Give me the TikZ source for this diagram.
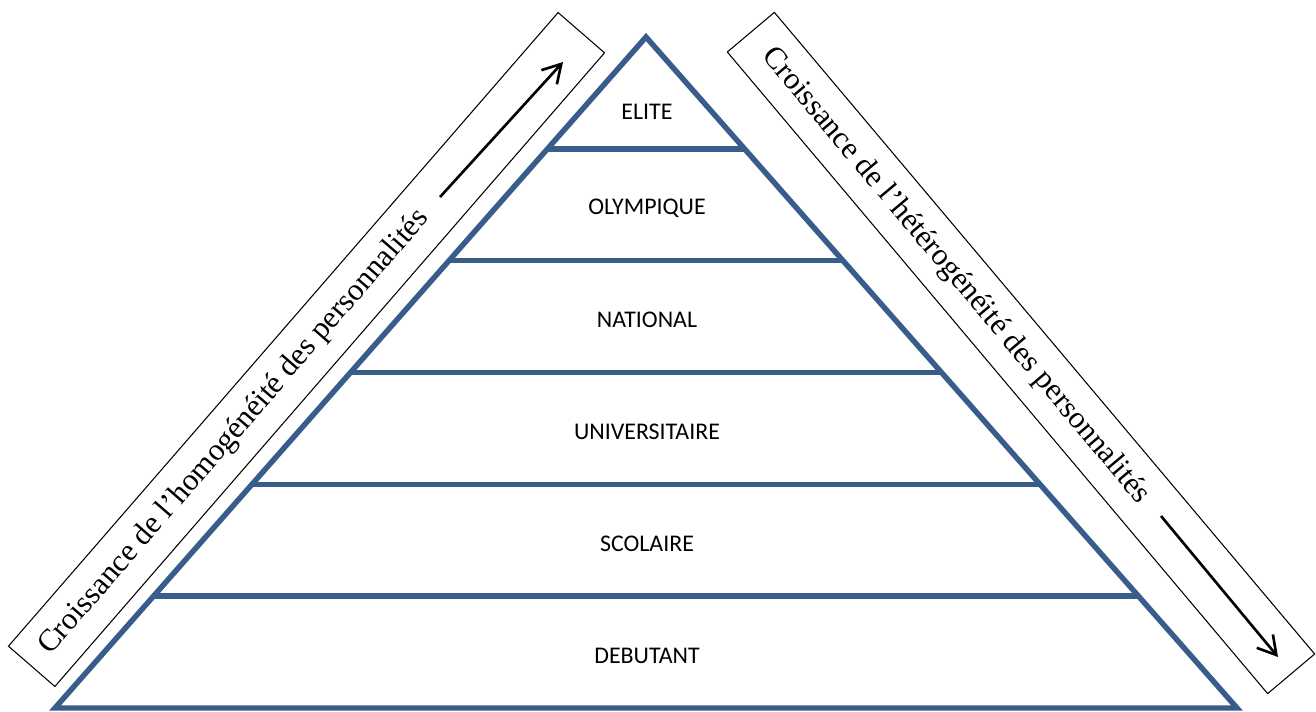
\documentclass[tikz,border=0pt]{standalone}
\usepackage{fontspec}
\setmainfont{Liberation Serif}
\newfontfamily\calibri{Carlito}
\usetikzlibrary{calc,arrows.meta}
\definecolor{pyrblue}{RGB}{56,93,138}
\tikzset{
  tierline/.style={draw=pyrblue,line width=3.1pt},
  tierlabel/.style={font=\calibri\fontsize{13.6}{15}\selectfont},
  sidebox/.style={draw,line width=0.6pt,inner sep=0pt,minimum width=16.78cm,minimum height=1.23cm},
  sidetext/.style={font=\fontsize{17.6}{20}\selectfont},
  growth/.style={-{Straight Barb[length=3.6mm,width=4.2mm]},line width=1.5pt}
}
\begin{document}
\begin{tikzpicture}[x=0.02cm,y=-0.02cm]
\useasboundingbox (0,0) rectangle (1316,711);
\coordinate (apex) at (646,37);
\coordinate (baseL) at (55,708);
\coordinate (baseR) at (1237,708);
\draw[tierline,line join=miter] (baseL) -- (apex) -- (baseR) -- cycle;
\foreach \k in {1,...,5}
  \draw[tierline] ($(apex)!\k/6!(baseL)$) -- ($(apex)!\k/6!(baseR)$);
\foreach \lab/\yy/\nm in {ELITE/112/elite,OLYMPIQUE/208/olymp,NATIONAL/320/natl,UNIVERSITAIRE/432/univ,SCOLAIRE/544/scol,DEBUTANT/656/debut}
  \node[tierlabel] (\nm) at (647,\yy) {\lab};
\node[sidebox,rotate=49.06] (homobox) at (306.5,349.5) {};
\node[sidebox,rotate=-49.9] (hetebox) at (1021,353) {};
\node[sidetext,rotate=49.06] (homotext) at (234.5,432.5) {Croissance de l’homogénéité des personnalités};
\node[sidetext,rotate=-49.9] (hetetext) at (955.5,276) {Croissance de l’hétérogénéité des personnalités};
\coordinate (homofrom) at (440,197);
\coordinate (homoto) at (563,62);
\draw[growth] (homofrom) -- (homoto);
\coordinate (hetefrom) at (1161,516);
\coordinate (heteto) at (1278,657);
\draw[growth] (hetefrom) -- (heteto);
\end{tikzpicture}
\end{document}
